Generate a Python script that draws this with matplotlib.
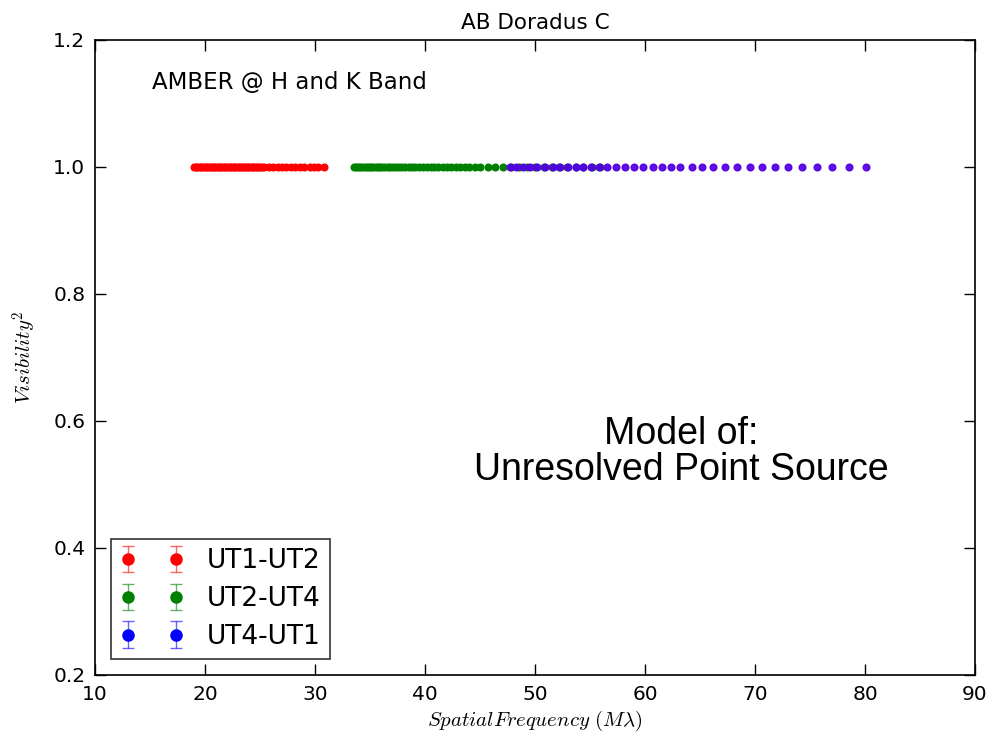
import matplotlib
matplotlib.use("Agg")
import matplotlib.pyplot as plt
import numpy as np

# spatial frequencies (M lambda)
ut12_freq = [19.0, 19.15, 19.3, 19.45, 19.6, 19.75, 19.9, 20.05, 20.2, 20.35,
             20.5, 20.65, 20.8, 20.95, 21.1, 21.25, 21.4, 21.55, 21.7, 21.85,
             22.0, 22.15, 22.3, 22.45, 22.6, 22.75, 22.9, 23.05, 23.2, 23.35,
             23.5, 23.65, 23.8, 23.95, 24.1, 24.25, 24.4, 24.55, 24.7, 24.85,
             25.0, 25.2, 25.4, 25.8, 26.2, 26.6, 27.0, 27.4, 27.8, 28.2,
             28.6, 29.0, 29.5, 29.9, 30.3, 30.8]
ut24_freq = [33.5, 33.7, 33.9, 34.1, 34.3, 34.5, 34.7, 34.9, 35.1, 35.3,
             35.5, 35.7, 35.9, 36.1, 36.35, 36.6, 36.85, 37.1, 37.35, 37.6,
             37.9, 38.2, 38.5, 38.8, 39.1, 39.45, 39.8, 40.15, 40.5, 40.85,
             41.2, 41.6, 42.0, 42.4, 42.8, 43.2, 43.6, 44.0, 44.5, 45.0,
             45.7, 46.4, 47.1, 47.8, 48.5, 49.3, 50.0, 50.8, 51.5, 52.2,
             52.9, 53.7, 54.4, 55.2, 55.9]
ut41_freq = [47.7, 48.3, 48.9, 49.5, 50.2, 50.9, 51.6, 52.3, 53.0, 53.7,
             54.4, 55.1, 55.8, 56.5, 57.4, 58.2, 59.0, 59.8, 60.7, 61.5,
             62.4, 63.2, 64.3, 65.2, 66.2, 67.3, 68.4, 69.5, 70.6, 71.8,
             73.0, 74.3, 75.6, 77.0, 78.5, 80.1]

# model visibility of an unresolved point source
ut12_vis = [1.0] * len(ut12_freq)
ut24_vis = [1.0] * len(ut24_freq)
ut41_vis = [1.0] * len(ut41_freq)

labels = ["UT1-UT2", "UT2-UT4", "UT4-UT1"]

plt.rcParams["mathtext.fontset"] = "cm"
plt.rcParams["font.family"] = ["DejaVu Sans"]

fig = plt.figure(figsize=(9.94, 7.42), dpi=100)
ax = fig.add_axes([0.0956, 0.0903, 0.8853, 0.8558])

ax.plot(ut12_freq, ut12_vis, "o", color="red", ms=4.8, mec="red")
ax.plot(ut24_freq, ut24_vis, "o", color="green", ms=4.8, mec="green")
ax.plot(ut41_freq, ut41_vis, "o", color="#5500e6", ms=4.8, mec="#5500e6", alpha=0.95)

# legend handles: errorbar style as in the original
handles = []
for c in ["red", "green", "blue"]:
    h = ax.errorbar([np.nan], [np.nan], yerr=[0.02], fmt="o", color=c,
                    ecolor=c, capsize=4, ms=8, elinewidth=1, alpha=1)
    handles.append(h)
for h in handles:
    for bar in h[2]:
        bar.set_alpha(0.6)
    for cap in h[1]:
        cap.set_alpha(0.6)

leg = ax.legend(handles, labels, loc="lower left", numpoints=2, fontsize=19,
                frameon=True, fancybox=False, borderpad=0.35, handlelength=2.4,
                labelspacing=0.45, borderaxespad=0.6, handletextpad=0.9)
leg.get_frame().set_edgecolor("black")
leg.get_frame().set_linewidth(1.2)

ax.set_xlim(10, 90)
ax.set_ylim(0.2, 1.2)
ax.set_xticks(np.arange(10, 91, 10))
ax.set_yticks(np.arange(0.2, 1.21, 0.2))
ax.tick_params(direction="in", top=True, right=True, length=8, width=1, labelsize=14.5, pad=7)
for s in ax.spines.values():
    s.set_linewidth(1.2)

ax.set_title("AB Doradus C", fontsize=15.5, pad=8)
ax.set_xlabel(r"$Spatial Frequency\ (M\lambda)$", fontsize=15)
ax.set_ylabel(r"$Visibility^2$", fontsize=15, labelpad=10)

ax.text(15.2, 1.133, "AMBER @ H and K Band", fontsize=16.5, va="center")
ax.text(63.3, 0.551, "Model of:\nUnresolved Point Source", fontsize=27,
        family="Liberation Sans", ha="center", va="center", linespacing=1.0)

fig.savefig("out.png", dpi=100)
